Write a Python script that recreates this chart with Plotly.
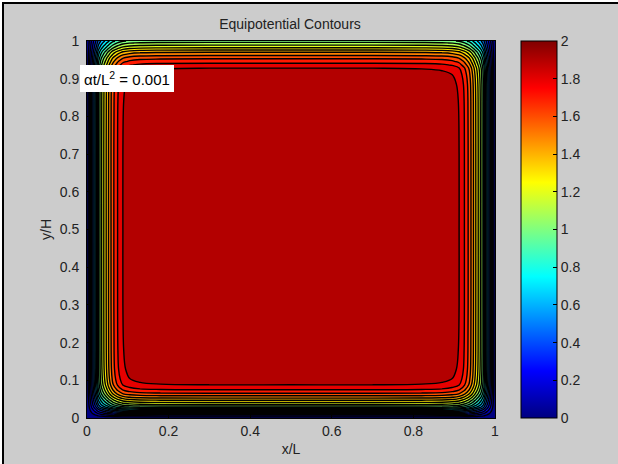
import numpy as np
import plotly.graph_objects as go

# --- data ---
# normalised potential (fraction of the interior value 2) versus distance from the walls x=0, x=1, y=0
wall_dist = [0.0, 0.004, 0.008, 0.012, 0.016, 0.020, 0.024, 0.028, 0.034, 0.040, 0.047,
             0.055, 0.064, 0.075, 0.088, 0.105, 0.13, 0.18, 0.30, 0.50]
wall_frac = [0.0, 0.07, 0.14, 0.21, 0.28, 0.35, 0.42, 0.50, 0.58, 0.64, 0.70,
             0.77, 0.84, 0.90, 0.950, 0.975, 0.99, 0.997, 1.0, 1.0]
# profile below the top edge y=1 (the grid is cut before reaching the wall)
top_dist = [0.0, 0.005, 0.011, 0.018, 0.024, 0.030, 0.037, 0.045, 0.054, 0.064, 0.072,
            0.09, 0.115, 0.16, 0.30, 0.50]
top_frac = [0.52, 0.56, 0.60, 0.65, 0.70, 0.75, 0.79, 0.84, 0.88, 0.92, 0.95,
            0.975, 0.99, 0.997, 1.0, 1.0]
interior_value = 2.0
level_start, level_end, level_step = 0.1, 1.9, 0.1
cbar_ticks = [0, 0.2, 0.4, 0.6, 0.8, 1.0, 1.2, 1.4, 1.6, 1.8, 2.0]
cbar_labels = ["0", "0.2", "0.4", "0.6", "0.8", "1", "1.2", "1.4", "1.6", "1.8", "2"]
x_ticks = [0, 0.2, 0.4, 0.6, 0.8, 1]
x_labels = ["0", "0.2", "0.4", "0.6", "0.8", "1"]
y_ticks = [0, 0.1, 0.2, 0.3, 0.4, 0.5, 0.6, 0.7, 0.8, 0.9, 1]
y_labels = ["0", "0.1", "0.2", "0.3", "0.4", "0.5", "0.6", "0.7", "0.8", "0.9", "1"]

# --- build the grid from the profiles ---
xs = list(wall_dist) + [1 - d for d in reversed(wall_dist[:-1])]
gx = list(wall_frac) + list(reversed(wall_frac[:-1]))
ys = list(wall_dist) + [1 - d for d in reversed(top_dist[:-1])]
gy = list(wall_frac) + list(reversed(top_frac[:-1]))
z = interior_value * np.outer(gy, gx)

# MATLAB jet colormap anchors
jet_pos = [0.0, 0.125, 0.375, 0.625, 0.875, 1.0]
jet_rgb = [(0, 0, 128), (0, 0, 255), (0, 255, 255), (255, 255, 0), (255, 0, 0), (128, 0, 0)]
jet = [[p, "rgb(%d,%d,%d)" % c] for p, c in zip(jet_pos, jet_rgb)]


def jet_at(v):
    return tuple(float(np.interp(v, jet_pos, [c[k] for c in jet_rgb])) for k in range(3))


# MATLAB contourf colours each band by its lower level -> jet truncated at (top band)/zmax
top_frac_scale = level_end / interior_value
fill_scale = [[p / top_frac_scale, "rgb(%d,%d,%d)" % c]
              for p, c in zip(jet_pos, jet_rgb) if p < top_frac_scale]
fill_scale.append([1.0, "rgb(%d,%d,%d)" % tuple(int(round(v)) for v in jet_at(top_frac_scale))])

L, R, T, B = 87, 123, 41, 46
W, H = 618, 464
pw, ph = W - L - R, H - T - B


def px(xp):
    return (xp - L) / pw


def py(yp):
    return (H - B - yp) / ph


FONT = "Liberation Sans, Arial"
tfont = dict(family=FONT, size=14, color="#222")

fig = go.Figure()
fig.add_trace(go.Contour(
    x=xs, y=ys, z=z,
    colorscale=fill_scale,
    autocontour=False,
    contours=dict(coloring="fill", showlines=True,
                  start=level_start, end=level_end, size=level_step),
    line=dict(color="black", width=1.4),
    showscale=False,
    hoverinfo="skip",
))
# colour bar (continuous jet, 0..2)
fig.add_trace(go.Scatter(
    x=[-1, -1], y=[-1, -1], mode="markers", showlegend=False, hoverinfo="skip",
    marker=dict(color=[0, interior_value], cmin=0, cmax=interior_value, colorscale=jet,
                showscale=True, size=1,
                colorbar=dict(
                    x=px(521), xanchor="left", thickness=36, len=1, lenmode="fraction",
                    y=0.5, yanchor="middle", xpad=0, ypad=0,
                    outlinecolor="black", outlinewidth=1,
                    tickvals=cbar_ticks, ticktext=cbar_labels, ticks="inside", ticklen=4,
                    tickcolor="black", tickfont=tfont,
                )),
))

axis_common = dict(showgrid=False, zeroline=False, ticks="inside", ticklen=4,
                   tickcolor="black", showline=True, linecolor="black", linewidth=1,
                   mirror=True, tickfont=tfont)

fig.update_layout(
    width=W, height=H,
    margin=dict(l=L, r=R, t=T, b=B, autoexpand=False),
    paper_bgcolor="#cccccc", plot_bgcolor="#cccccc",
    title=dict(text="Equipotential Contours", x=px(290), xref="paper", xanchor="center",
               y=1 - 24 / H, yref="container", yanchor="middle", font=tfont),
    xaxis=dict(range=[0, 1], tickvals=x_ticks, ticktext=x_labels,
               title=dict(text="x/L", standoff=6, font=tfont), **axis_common),
    yaxis=dict(range=[0, 1], tickvals=y_ticks, ticktext=y_labels, ticklabelstandoff=4,
               title=dict(text="y/H", standoff=4, font=tfont), **axis_common),
    annotations=[dict(
        text="αt/L<sup>2</sup> = 0.001", xref="paper", yref="paper",
        x=px(80), y=py(65), xanchor="left", yanchor="top", showarrow=False,
        bgcolor="white", borderpad=4, borderwidth=0,
        font=dict(family=FONT, size=15, color="black"),
    )],
    shapes=[
        dict(type="rect", xref="paper", yref="paper", x0=px(0), x1=px(W), y0=py(0), y1=py(2),
             fillcolor="white", line=dict(width=0), layer="above"),
        dict(type="rect", xref="paper", yref="paper", x0=px(0), x1=px(2), y0=py(0), y1=py(H),
             fillcolor="white", line=dict(width=0), layer="above"),
        dict(type="rect", xref="paper", yref="paper", x0=px(2), x1=px(W), y0=py(2), y1=py(4),
             fillcolor="black", line=dict(width=0), layer="above"),
        dict(type="rect", xref="paper", yref="paper", x0=px(2), x1=px(4), y0=py(2), y1=py(H),
             fillcolor="black", line=dict(width=0), layer="above"),
    ],
)

fig.write_html("out.html", config={"displayModeBar": False},
               post_script="document.body.style.margin='0px';")
